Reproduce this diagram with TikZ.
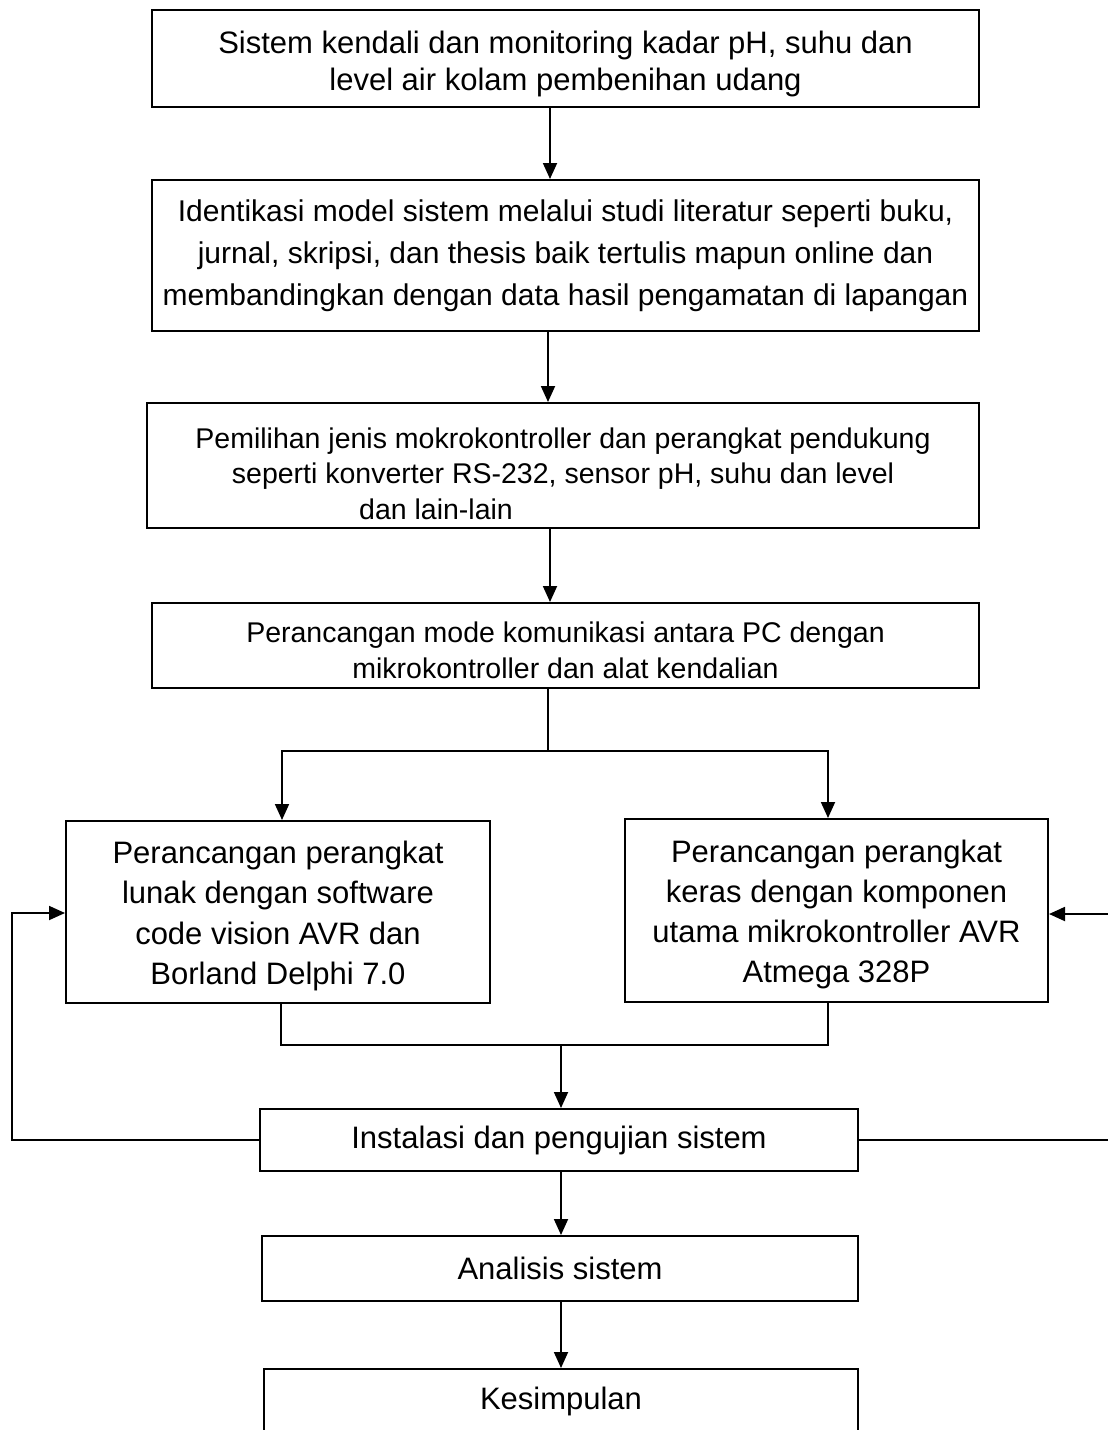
\documentclass[tikz,border=0pt]{standalone}
\usepackage{fontspec}
\setmainfont{Liberation Sans}
\usetikzlibrary{arrows.meta}

\begin{document}
\begin{tikzpicture}[x=1pt,y=-1pt,line join=miter,
  kotak/.style={draw,line width=2pt,rectangle,inner sep=0pt,align=center},
  panah/.style={line width=1.8pt,-{Triangle[length=16pt,width=14pt]}},
  garis/.style={line width=1.8pt}]
  \useasboundingbox (0,0) rectangle (1108,1430);
  % kotak-kotak tahapan
  \node[kotak,minimum width=827,minimum height=97,font=\fontsize{31}{37}\selectfont] (b1) at (565.5,58.5)
    {\rule{0pt}{33pt}Sistem kendali dan monitoring kadar pH, suhu dan\\level air kolam pembenihan udang};
  \node[kotak,minimum width=827,minimum height=151,font=\fontsize{30}{42}\selectfont] (b2) at (565.5,255.5)
    {Identikasi model sistem melalui studi literatur seperti buku,\\jurnal, skripsi, dan thesis baik tertulis mapun online dan\\membandingkan dengan data hasil pengamatan di lapangan};
  \node[kotak,minimum width=832,minimum height=125,font=\fontsize{28.5}{35.5}\selectfont] (b3) at (563,465.5)
    {\rule{0pt}{37pt}Pemilihan jenis mokrokontroller dan perangkat pendukung\\seperti konverter RS-232, sensor pH, suhu dan level\\dan lain-lain\hspace*{254pt}};
  \node[kotak,minimum width=827,minimum height=85,font=\fontsize{28.5}{36}\selectfont] (b4) at (565.5,645.5)
    {\rule{0pt}{31pt}Perancangan mode komunikasi antara PC dengan\\mikrokontroller dan alat kendalian};
  \node[kotak,minimum width=424,minimum height=182,font=\fontsize{31}{40.5}\selectfont] (b5) at (278,912)
    {\rule{0pt}{30pt}Perancangan perangkat\\lunak dengan software\\code vision AVR dan\\Borland Delphi 7.0};
  \node[kotak,minimum width=423,minimum height=183,font=\fontsize{31}{40}\selectfont] (b6) at (836.5,910.5)
    {\rule{0pt}{30pt}Perancangan perangkat\\keras dengan komponen\\utama mikrokontroller AVR\\Atmega 328P};
  \node[kotak,minimum width=598,minimum height=62,font=\fontsize{31}{37}\selectfont] (b7) at (559,1140)
    {Instalasi dan pengujian sistem};
  \node[kotak,minimum width=596,minimum height=65,font=\fontsize{31}{37}\selectfont] (b8) at (560,1268.5)
    {Analisis sistem};
  % kotak terakhir terpotong di bawah
  \node[kotak,anchor=north,minimum width=594,minimum height=120] (b9) at (561,1368) {};
  \node[font=\fontsize{31}{37}\selectfont,inner sep=0pt] (kes) at (561,1401) {Kesimpulan};
  % alur utama
  \draw[panah] (b1.south -| 550,0) -- (b2.north -| 550,0);
  \draw[panah] (b2.south -| 548,0) -- (b3.north -| 548,0);
  \draw[panah] (b3.south -| 550,0) -- (b4.north -| 550,0);
  % percabangan
  \coordinate (pisah) at (548,751);
  \draw[garis] (b4.south -| pisah) -- (pisah);
  \draw[panah] (pisah) -| (b5.north -| 282,0);
  \draw[panah] (pisah) -| (b6.north -| 828,0);
  % penggabungan
  \coordinate (gabung) at (561,1045);
  \draw[garis] (b5.south -| 281,0) |- (gabung) -| (b6.south -| 828,0);
  \draw[panah] (gabung) -- (b7.north -| gabung);
  \draw[panah] (b7.south -| gabung) -- (b8.north -| gabung);
  \draw[panah] (b8.south -| gabung) -- (b9.north -| gabung);
  % umpan balik
  \draw[panah] (b7.west) -| (12,913) -- (b5.west |- 0,913);
  \draw[panah] (b7.east) -| (1110,914) -- (b6.east |- 0,914);
\end{tikzpicture}
\end{document}
